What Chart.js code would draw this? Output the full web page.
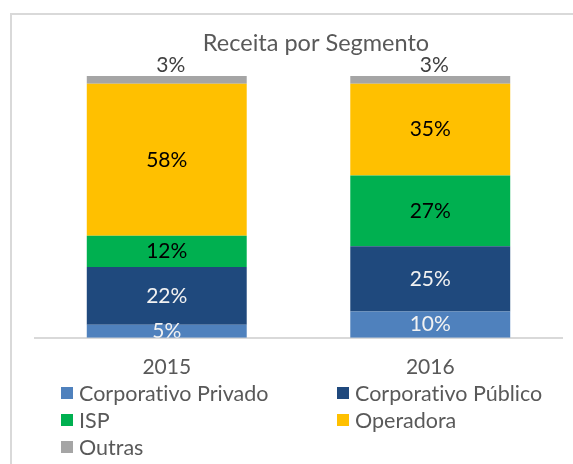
<!DOCTYPE html>
<html>
<head>
<meta charset="utf-8">
<script src="https://cdn.jsdelivr.net/npm/chart.js@4.4.0/dist/chart.umd.min.js"></script>
<style>
  html, body { margin: 0; padding: 0; background: #fff; }
  #wrap { position: relative; width: 573px; height: 464px; overflow: hidden; font-family: Lato, "Open Sans", sans-serif; }
  #frame { position: absolute; left: 10px; top: 13px; width: 620px; height: 500px; border: 2px solid #d9d9d9; box-sizing: border-box; }
  #c { position: absolute; left: 0; top: 0; }
  #legend { position: absolute; left: 0; top: 0; width: 573px; height: 464px; pointer-events: none; }
  .item { position: absolute; display: flex; align-items: center; color: #595959; font-size: 21.5px; line-height: 24px; white-space: nowrap; font-variant-ligatures: none; font-feature-settings: "liga" 0; }
  .sw { width: 12px; height: 12px; margin-right: 6px; }
</style>
</head>
<body>
<div id="wrap">
  <div id="frame"></div>
  <canvas id="c" width="573" height="464"></canvas>
  <div id="legend"></div>
</div>
<script>
const title = "Receita por Segmento";
const categories = ["2015", "2016"];
const seriesNames = ["Corporativo Privado", "Corporativo Público", "ISP", "Operadora", "Outras"];
const corporativoPrivado = [5, 10];
const corporativoPublico = [22, 25];
const isp = [12, 27];
const operadora = [58, 35];
const outras = [3, 3];

const colors = ["#4F81BD", "#1F497D", "#00B050", "#FFC000", "#A5A5A5"];
const labelColors = ["#F2F2F2", "#F2F2F2", "#000000", "#000000", "#404040"];
const seriesValues = [corporativoPrivado, corporativoPublico, isp, operadora, outras];

const FONT = "Lato, 'Open Sans', sans-serif";

const labelPlugin = {
  id: "segLabels",
  afterDatasetsDraw(chart) {
    const ctx = chart.ctx;
    const area = chart.chartArea;
    ctx.save();
    ctx.font = "21px " + FONT;
    ctx.textAlign = "center";
    ctx.textBaseline = "middle";
    chart.data.datasets.forEach((ds, i) => {
      const meta = chart.getDatasetMeta(i);
      meta.data.forEach((el, j) => {
        const v = ds.data[j];
        const txt = v + "%";
        ctx.fillStyle = labelColors[i];
        if (i === seriesValues.length - 1) {
          ctx.fillText(txt, el.x + 4, el.y - 11);
        } else {
          ctx.save();
          ctx.beginPath();
          ctx.rect(0, 0, chart.width, area.bottom);
          ctx.clip();
          ctx.fillText(txt, el.x, (el.y + el.base) / 2);
          ctx.restore();
        }
      });
    });
    ctx.restore();
  }
};

const titlePlugin = {
  id: "fixedTitle",
  afterDraw(chart) {
    const ctx = chart.ctx;
    ctx.save();
    ctx.font = "23.5px " + FONT;
    ctx.fillStyle = "#595959";
    ctx.textAlign = "center";
    ctx.textBaseline = "alphabetic";
    ctx.fillText(title, 316, 51);
    ctx.restore();
  }
};

const chart = new Chart(document.getElementById("c"), {
  type: "bar",
  data: {
    labels: categories,
    datasets: seriesNames.map((n, i) => ({
      label: n,
      data: seriesValues[i],
      backgroundColor: colors[i],
      borderWidth: 0,
      barPercentage: 0.607,
      categoryPercentage: 1.0
    }))
  },
  options: {
    responsive: false,
    animation: false,
    layout: { padding: { top: 76, left: 35, right: 11, bottom: 67 } },
    plugins: { legend: { display: false }, title: { display: false }, tooltip: { enabled: false } },
    scales: {
      x: {
        stacked: true,
        grid: { display: false, drawTicks: false, tickLength: 0 },
        border: { display: true, color: "#d9d9d9", width: 2 },
        ticks: { color: "#595959", font: { family: FONT, size: 21 }, padding: 17 }
      },
      y: {
        stacked: true,
        display: false,
        min: 0,
        max: 100
      }
    }
  },
  plugins: [labelPlugin, titlePlugin]
});

// legend built from the chart's datasets
const legend = document.getElementById("legend");
const pos = [[61, 393], [337, 393], [61, 420], [337, 420], [61, 447]];
chart.data.datasets.forEach((ds, i) => {
  const d = document.createElement("div");
  d.className = "item";
  d.style.left = pos[i][0] + "px";
  d.style.top = (pos[i][1] - 12) + "px";
  const sw = document.createElement("span");
  sw.className = "sw";
  sw.style.background = ds.backgroundColor;
  const t = document.createElement("span");
  t.textContent = ds.label;
  d.appendChild(sw); d.appendChild(t);
  legend.appendChild(d);
});
</script>
</body>
</html>
